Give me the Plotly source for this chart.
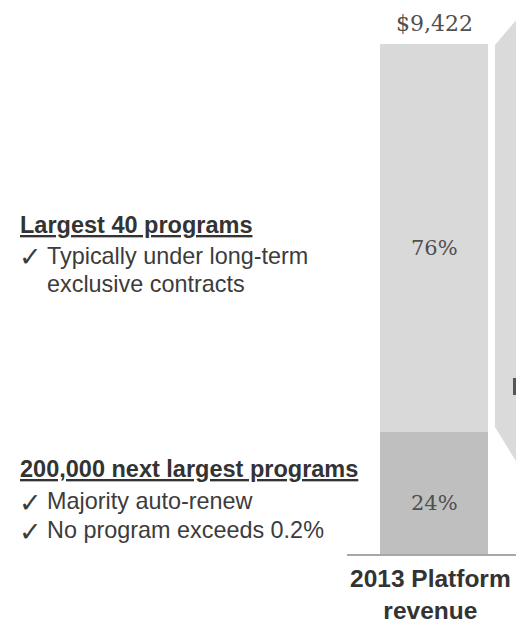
import plotly.graph_objects as go

# --- data -------------------------------------------------------------
category = ["2013 Platform revenue"]
total_revenue = 9422                      # $ total platform revenue
segment_names = ["200,000 next largest programs", "Largest 40 programs"]
segment_shares = [24, 76]                 # percent of total, bottom to top
segment_colors = ["#bfbfbf", "#d9d9d9"]

largest_notes = ["Typically under long-term", "exclusive contracts"]
next_notes = ["Majority auto-renew", "No program exceeds 0.2%"]

# --- figure -------------------------------------------------------------
W, H = 516, 626
fig = go.Figure()

segment_values = [total_revenue * s / 100 for s in segment_shares]
for name, value, color in zip(segment_names, segment_values, segment_colors):
    fig.add_trace(go.Bar(
        x=category,
        y=[value],
        name=name,
        marker=dict(color=color, line=dict(width=0)),
        width=0.639,
        hoverinfo="skip",
    ))

def px_x(p):
    return p / W

def px_y(p):
    return 1 - p / H

serif = dict(family="DejaVu Serif", size=21, color="#505050")
annotations = []

# percentage labels, sitting a little below each segment's middle
base = 0
for share, value in zip(segment_shares, segment_values):
    annotations.append(dict(
        x=category[0], y=base + value / 2, xref="x", yref="y",
        text=f"{share}%", showarrow=False, yshift=-10, font=serif,
    ))
    base += value

# total above the stacked bar
annotations.append(dict(
    x=category[0], y=total_revenue, xref="x", yref="y",
    text=f"${total_revenue:,}", showarrow=False,
    yanchor="bottom", yshift=6,
    font=dict(family="DejaVu Serif", size=22, color="#505050"),
))

# category label along the bottom edge
annotations.append(dict(
    x=category[0], y=0, xref="x", yref="paper",
    text="<b>2013 Platform<br>revenue</b>", showarrow=False,
    yanchor="bottom", xshift=-4,
    font=dict(family="Liberation Sans", size=24.5, color="#333333"),
))

sans = "Liberation Sans"
text_color = "#3c3c3c"

def add_block(title, notes, title_y, line_ys, checked):
    annotations.append(dict(
        x=px_x(18), y=px_y(title_y), xref="paper", yref="paper",
        text=f"<b><u>{title}</u></b>", showarrow=False,
        xanchor="left", yanchor="middle",
        font=dict(family=sans, size=23.5, color="#333333"),
    ))
    for note, ly, tick in zip(notes, line_ys, checked):
        if tick:
            annotations.append(dict(
                x=px_x(17), y=px_y(ly + 1), xref="paper", yref="paper",
                text="✓", showarrow=False, xanchor="left", yanchor="middle",
                font=dict(family="DejaVu Sans", size=27, color=text_color),
            ))
        annotations.append(dict(
            x=px_x(45), y=px_y(ly), xref="paper", yref="paper",
            text=note, showarrow=False, xanchor="left", yanchor="middle",
            font=dict(family=sans, size=23.4, color=text_color),
        ))

add_block(segment_names[1], largest_notes, 225, [256, 284], [True, False])
add_block(segment_names[0], next_notes, 469, [501, 530], [True, True])

# neighbouring funnel panel, cut off at the right edge
shapes = [
    dict(type="path", xref="paper", yref="paper",
         path=(f"M {px_x(495)} {px_y(45)} L {px_x(517)} {px_y(19)} "
               f"L {px_x(517)} {px_y(463)} L {px_x(495)} {px_y(427)} Z"),
         fillcolor="#dadada", line=dict(width=0), layer="below"),
    dict(type="rect", xref="paper", yref="paper",
         x0=px_x(513), x1=px_x(517), y0=px_y(395), y1=px_y(378),
         fillcolor="#555555", line=dict(width=0)),
]

fig.update_layout(
    width=W, height=H,
    margin=dict(l=0, r=0, t=0, b=0),
    barmode="stack",
    showlegend=False,
    paper_bgcolor="white", plot_bgcolor="white",
    annotations=annotations,
    shapes=shapes,
    xaxis=dict(
        domain=[px_x(347), 1],
        range=[-0.5148, 0.4852],
        showticklabels=False, ticks="",
        showline=True, linecolor="#a8a8a8", linewidth=2,
        showgrid=False, zeroline=False, fixedrange=True,
    ),
    yaxis=dict(
        domain=[px_y(554), 1],
        range=[0, total_revenue * 554 / 510],
        visible=False, showgrid=False, zeroline=False, fixedrange=True,
    ),
)

fig.write_html("out.html", config={"displayModeBar": False})
